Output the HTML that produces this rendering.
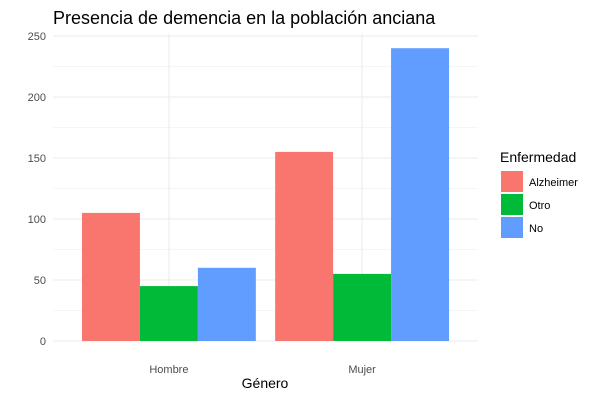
<!DOCTYPE html>
<html><head><meta charset="utf-8"><style>
body{margin:0;background:#fff;}
svg text{font-family:"Liberation Sans",Arial,sans-serif;}
</style></head><body>
<svg id="chart" width="600" height="400" xmlns="http://www.w3.org/2000/svg">
<rect width="600" height="400" fill="#fff"/>
<g id="grid"></g>
<g id="bars"></g>
<g id="axes"></g>
<text x="53" y="24" font-size="18" fill="#000">Presencia de demencia en la población anciana</text>
<text x="265" y="388" font-size="14" fill="#000" text-anchor="middle">Género</text>
<g id="legend"></g>
</svg>
<script>
const categories = ["Hombre","Mujer"];
const seriesNames = ["Alzheimer","Otro","No"];
const alzheimer = [105,155];
const otro = [45,55];
const noDem = [60,240];
const yTicks = [0,50,100,150,200,250];
const colors = ["#F8766D","#00BA38","#619CFF"];
const series = [alzheimer,otro,noDem];

const NS="http://www.w3.org/2000/svg";
const left=53,right=478,y0=341,pxPerUnit=1.22;
const step=(right-left)/(categories.length+0.2);
function xCenter(i){return left+step*(0.6+i);}
function yScale(v){return y0-v*pxPerUnit;}
function mk(tag,attrs,parent){const e=document.createElementNS(NS,tag);for(const k in attrs)e.setAttribute(k,attrs[k]);parent.appendChild(e);return e;}
const grid=document.getElementById('grid'),bars=document.getElementById('bars'),axes=document.getElementById('axes'),legend=document.getElementById('legend');
const yTop=yScale(252);
for(let i=0;i<yTicks.length-1;i++){
  const v=(yTicks[i]+yTicks[i+1])/2;
  const l=mk('line',{x1:left,x2:right,y1:yScale(v),y2:yScale(v),stroke:'#ebebeb','stroke-width':0.5},grid);
  
  
}
yTicks.forEach(v=>{
  const l=mk('line',{x1:left,x2:right,y1:yScale(v),y2:yScale(v),stroke:'#ebebeb','stroke-width':1},grid);
  
  
  const t=mk('text',{x:left-7,y:yScale(v)+4,'font-size':11,fill:'#4d4d4d','text-anchor':'end'},axes);
  t.textContent=v;
  
  
});
categories.forEach((c,i)=>{
  const l=mk('line',{x1:xCenter(i),x2:xCenter(i),y1:yTop,y2:y0,stroke:'#ebebeb','stroke-width':1},grid);
  
  
  const t=mk('text',{x:xCenter(i),y:y0+32,'font-size':11,fill:'#4d4d4d','text-anchor':'middle'},axes);
  t.textContent=c;
  
  
  const gw=step*0.9,bw=gw/series.length;
  series.forEach((s,j)=>{
    const x=xCenter(i)-gw/2+j*bw;
    const r=mk('rect',{x:x,y:yScale(s[i]),width:bw,height:y0-yScale(s[i]),fill:colors[j]},bars);
    
    
  });
});
const lt=mk('text',{x:500,y:162,'font-size':14,fill:'#000'},legend);
lt.textContent='Enfermedad';


seriesNames.forEach((n,j)=>{
  const y=171+j*23;
  const r=mk('rect',{x:501,y:y,width:22,height:21,fill:colors[j]},legend);
  
  
  const t=mk('text',{x:529,y:y+15,'font-size':11,fill:'#000'},legend);
  t.textContent=n;
  
  
});
</script>
</body></html>
